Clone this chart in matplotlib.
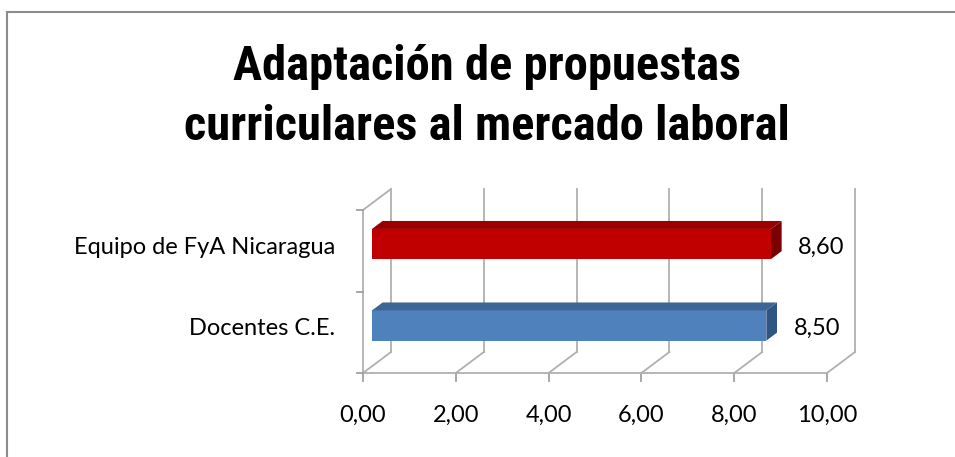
import matplotlib
matplotlib.use('Agg')
import matplotlib.pyplot as plt
from matplotlib.patches import Polygon, Rectangle
from matplotlib import font_manager

categories = ['Docentes C.E.', 'Equipo de FyA Nicaragua']
values = [8.50, 8.60]
value_labels = ['8,50', '8,60']
xticks = [0, 2, 4, 6, 8, 10]
xtick_labels = ['0,00', '2,00', '4,00', '6,00', '8,00', '10,00']
title = 'Adaptación de propuestas\ncurriculares al mercado laboral'

front_colors = ['#4F81BD', '#C00000']
top_colors = ['#3D6696', '#9A0000']
side_colors = ['#2F5683', '#7A0000']

names = {f.name for f in font_manager.fontManager.ttflist}
TFAM = [f for f in ['Liberation Sans Narrow', 'Roboto Condensed', 'Liberation Sans'] if f in names] + ['DejaVu Sans']
LFAM = [f for f in ['Lato', 'Open Sans'] if f in names] + ['DejaVu Sans']

W, H = 955, 457
fig = plt.figure(figsize=(W / 100, H / 100), dpi=100)

# outer frame
fig.add_artist(Rectangle((7 / W, -0.05), 1.2, 1 - 12 / H + 0.05, transform=fig.transFigure,
                         fill=False, edgecolor='#8C8C8C', linewidth=1.5))

ax = fig.add_axes([363 / W, (H - 373) / H, 464 / W, 163 / H])
ax.set_xlim(0, 10)
ax.set_ylim(0, 2)
ax.axis('off')

DX = 28 / 46.4
DY = 21 / 81.5
gc = '#B0B0B0'
lw = 1.3

# back wall verticals + floor diagonals + front ticks
for t in xticks:
    ax.plot([t + DX, t + DX], [DY, 2 + DY], color=gc, lw=lw, clip_on=False, zorder=1)
    ax.plot([t, t + DX], [0, DY], color=gc, lw=lw, clip_on=False, zorder=1)
    ax.plot([t, t], [0, -0.1], color='#A0A0A0', lw=lw, clip_on=False, zorder=1)
# front floor edge
ax.plot([0, 10], [0, 0], color=gc, lw=lw, clip_on=False, zorder=1)
# left wall
ax.plot([0, 0], [0, 2], color=gc, lw=lw, clip_on=False, zorder=1)
ax.plot([0, DX], [2, 2 + DY], color=gc, lw=lw, clip_on=False, zorder=1)
for yy in [0, 1, 2]:
    ax.plot([-0.13, 0], [yy, yy], color='#A0A0A0', lw=lw, clip_on=False, zorder=1)

f0, f1 = 0.32, 0.70
bh = 0.37
for i, (cat, v) in enumerate(zip(categories, values)):
    yc = i + 0.5 + f0 * DY
    x0 = f0 * DX
    ddx = (f1 - f0) * DX
    ddy = (f1 - f0) * DY
    yb, yt = yc - bh / 2, yc + bh / 2
    ax.barh(yc, v, left=x0, height=bh, color=front_colors[i], zorder=3, clip_on=False)
    ax.add_patch(Polygon([(x0, yt), (x0 + v, yt), (x0 + v + ddx, yt + ddy), (x0 + ddx, yt + ddy)],
                         closed=True, facecolor=top_colors[i], edgecolor='none', zorder=3, clip_on=False))
    ax.add_patch(Polygon([(x0 + v, yb), (x0 + v, yt), (x0 + v + ddx, yt + ddy), (x0 + v + ddx, yb + ddy)],
                         closed=True, facecolor=side_colors[i], edgecolor='none', zorder=3, clip_on=False))
    ax.text(x0 + v + ddx + 0.36, yc - 0.035, value_labels[i], ha='left', va='center',
            fontsize=17, family=LFAM, color='#000000', clip_on=False)
    ax.text(-0.6, yc - 0.04, cat, ha='right', va='center', fontsize=17, family=LFAM,
            color='#000000', clip_on=False)

for t, lab in zip(xticks, xtick_labels):
    ax.text(t, -0.515, lab, ha='center', va='center', fontsize=17, family=LFAM, clip_on=False)

fig.text(487 / W, 1 - 97 / H, title, ha='center', va='center', fontsize=35,
         fontweight='bold', family=TFAM, linespacing=1.4)

fig.savefig('out.png', dpi=100)
